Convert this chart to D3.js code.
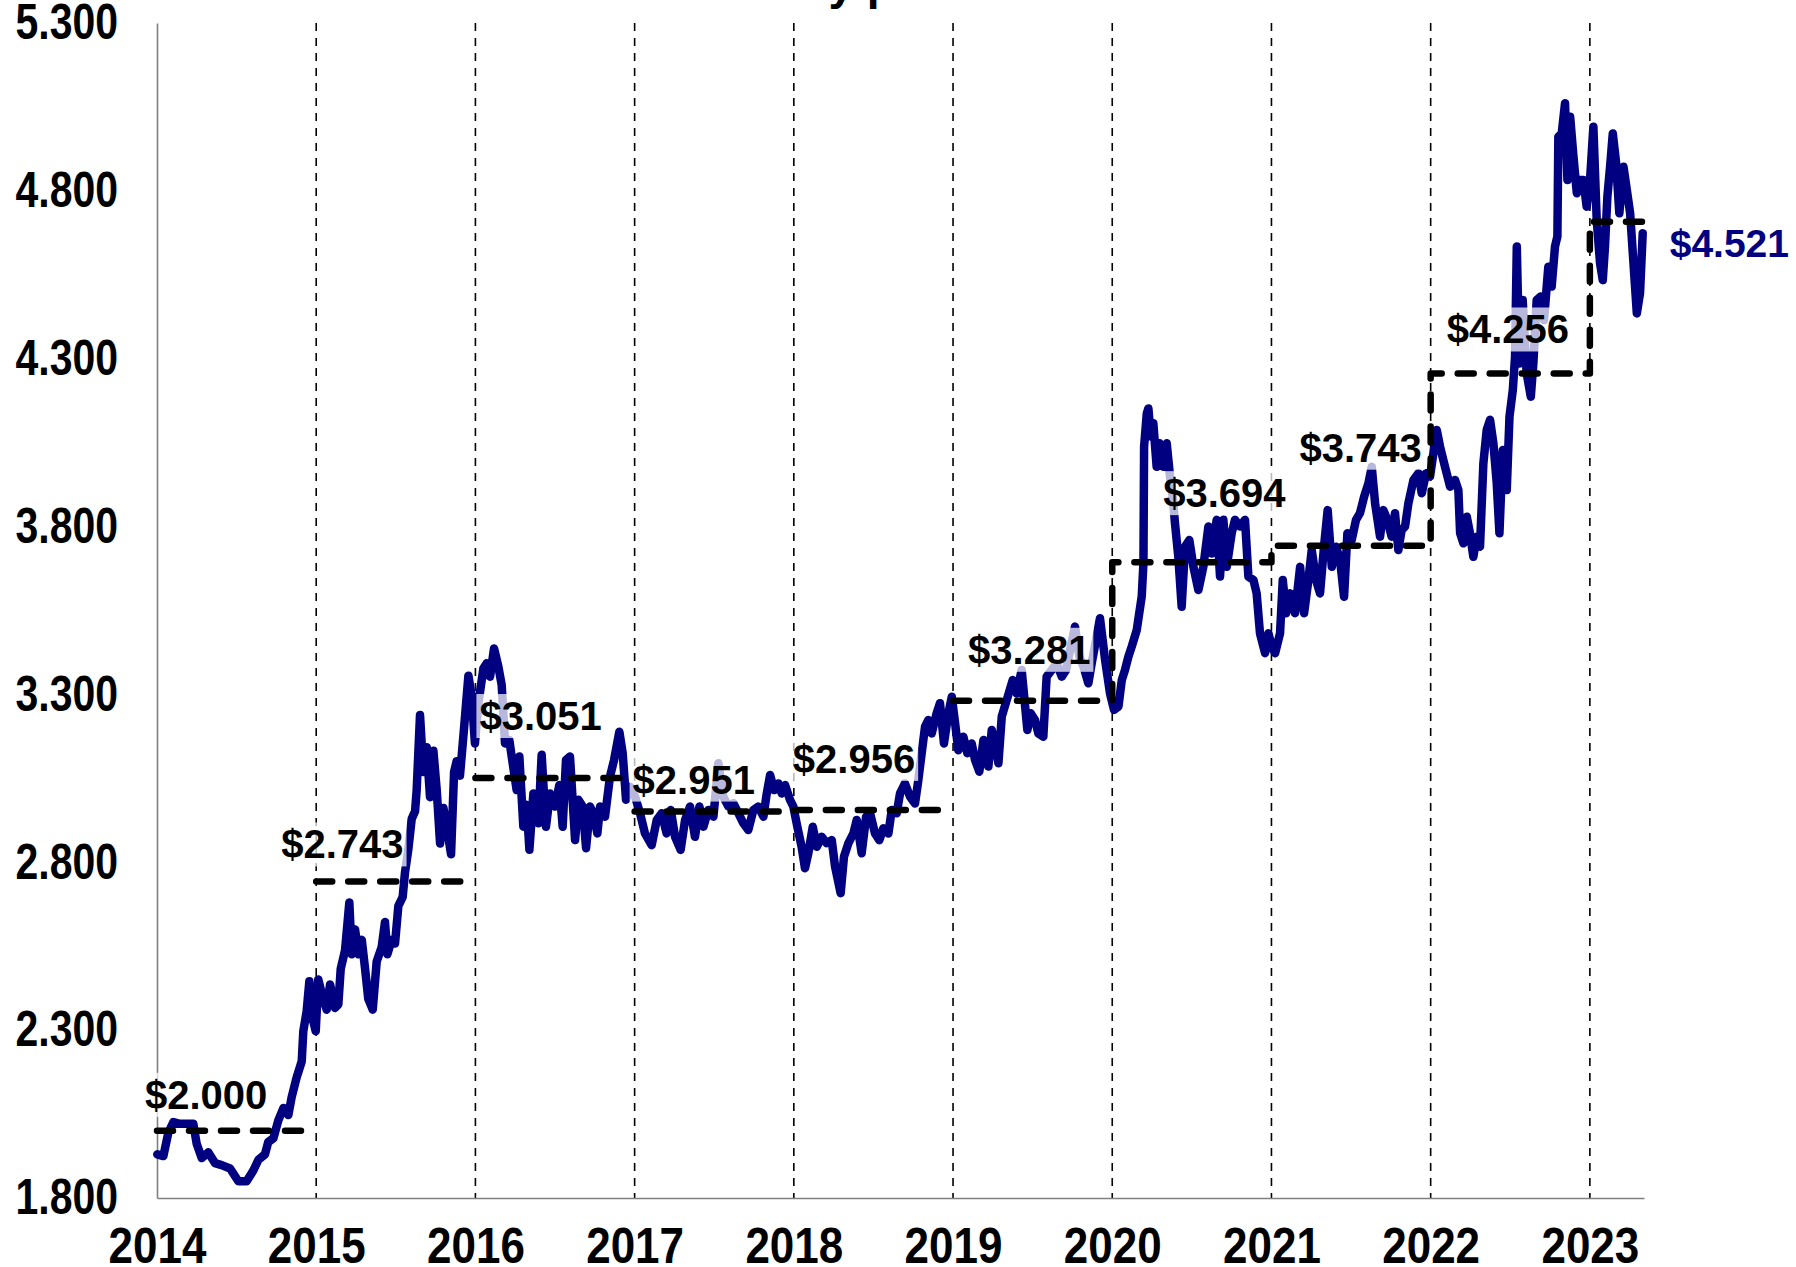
<!DOCTYPE html>
<html>
<head>
<meta charset="utf-8">
<script src="https://cdn.jsdelivr.net/npm/d3@7"></script>
<style>
  body { margin: 0; background: #fff; }
  svg { display: block; font-family: "Liberation Sans", Arial, sans-serif; }
</style>
</head>
<body>
<div id="vis"></div>
<script>
const FRAME_WIDTH = 1796;
const FRAME_HEIGHT = 1267;
const MARGINS = {left: 157, right: 152, top: 23, bottom: 69};

// chart values
const TITLE = 'Historical retail fuel weekly prices and annual means';
const years = [2014, 2015, 2016, 2017, 2018, 2019, 2020, 2021, 2022, 2023];
const annualAvg = [2.000, 2.743, 3.051, 2.951, 2.956, 3.281, 3.694, 3.743, 4.256, 4.708];
const yTicks = [1.8, 2.3, 2.8, 3.3, 3.8, 4.3, 4.8, 5.3];
const xStart = 2014;
const xEnd = 2023.34;
const lastPriceLabel = 4.521;

// price series (decimal year, $)
const priceDates = [
  2014.002, 2014.040, 2014.071, 2014.103, 2014.144, 2014.186, 2014.228, 2014.249, 2014.281, 2014.322,
  2014.364, 2014.406, 2014.459, 2014.511, 2014.563, 2014.605, 2014.637, 2014.678, 2014.699, 2014.731,
  2014.762, 2014.794, 2014.825, 2014.846, 2014.877, 2014.909, 2014.919, 2014.940, 2014.957, 2014.978,
  2014.997, 2015.013, 2015.041, 2015.066, 2015.087, 2015.118, 2015.139, 2015.154, 2015.181, 2015.208,
  2015.223, 2015.244, 2015.265, 2015.286, 2015.307, 2015.327, 2015.355, 2015.380, 2015.411, 2015.432,
  2015.447, 2015.474, 2015.495, 2015.516, 2015.543, 2015.558, 2015.579, 2015.600, 2015.621, 2015.631,
  2015.652, 2015.673, 2015.694, 2015.715, 2015.736, 2015.757, 2015.778, 2015.799, 2015.826, 2015.847,
  2015.866, 2015.882, 2015.903, 2015.928, 2015.956, 2015.977, 2015.997, 2016.018, 2016.050,
  2016.071, 2016.092, 2016.117, 2016.144, 2016.165, 2016.186, 2016.213, 2016.234, 2016.259, 2016.276,
  2016.301, 2016.322, 2016.339, 2016.364, 2016.395, 2016.416, 2016.443, 2016.469, 2016.500, 2016.527,
  2016.548, 2016.569, 2016.594, 2016.626, 2016.647, 2016.674, 2016.695, 2016.720, 2016.741, 2016.766,
  2016.783, 2016.814, 2016.845, 2016.871, 2016.904, 2016.925, 2016.946, 2016.971, 2017.003, 2017.034,
  2017.065, 2017.107, 2017.139, 2017.170, 2017.201, 2017.227, 2017.254, 2017.289, 2017.317, 2017.348,
  2017.379, 2017.407, 2017.432, 2017.463, 2017.495, 2017.526, 2017.557, 2017.589, 2017.620, 2017.652,
  2017.683, 2017.714, 2017.746, 2017.777, 2017.809, 2017.830, 2017.851, 2017.876, 2017.903, 2017.924,
  2017.945, 2017.976, 2017.997, 2018.022, 2018.049, 2018.070, 2018.091,
  2018.119, 2018.144, 2018.175, 2018.206, 2018.238, 2018.259, 2018.294, 2018.315, 2018.343, 2018.374,
  2018.395, 2018.426, 2018.454, 2018.479, 2018.510, 2018.537, 2018.562, 2018.594, 2018.615, 2018.646,
  2018.667, 2018.698, 2018.730, 2018.761, 2018.782, 2018.803, 2018.824, 2018.845, 2018.866, 2018.897,
  2018.918, 2018.943, 2018.971, 2018.992, 2019.013, 2019.033, 2019.065, 2019.090, 2019.117, 2019.138,
  2019.165, 2019.191, 2019.222, 2019.243, 2019.264, 2019.285, 2019.306, 2019.337, 2019.375, 2019.400,
  2019.431, 2019.467, 2019.488, 2019.515, 2019.536, 2019.567, 2019.588, 2019.620, 2019.651, 2019.683,
  2019.710, 2019.735, 2019.766, 2019.794, 2019.819, 2019.850, 2019.871, 2019.898, 2019.923, 2019.955,
  2019.986, 2020.011, 2020.039, 2020.060, 2020.080, 2020.101, 2020.122, 2020.154,
  2020.185, 2020.196, 2020.200, 2020.217, 2020.227, 2020.242, 2020.258, 2020.279, 2020.296, 2020.321,
  2020.342, 2020.363, 2020.380, 2020.394, 2020.415, 2020.436, 2020.457, 2020.484, 2020.510, 2020.541,
  2020.572, 2020.604, 2020.625, 2020.656, 2020.677, 2020.698, 2020.719, 2020.750, 2020.771, 2020.803,
  2020.834, 2020.855, 2020.887, 2020.907, 2020.928, 2020.960, 2020.981, 2021.002, 2021.023, 2021.054,
  2021.071, 2021.092, 2021.117, 2021.148, 2021.180, 2021.205, 2021.232, 2021.253, 2021.280, 2021.305,
  2021.330, 2021.353, 2021.379, 2021.406, 2021.431, 2021.456, 2021.477, 2021.504, 2021.531, 2021.556,
  2021.582, 2021.609, 2021.630, 2021.651, 2021.682, 2021.703, 2021.728, 2021.755, 2021.776, 2021.797,
  2021.818, 2021.839, 2021.860, 2021.892, 2021.923, 2021.944, 2021.971, 2021.996, 2022.017, 2022.038,
  2022.059, 2022.090, 2022.122,
  2022.153, 2022.174, 2022.185, 2022.206, 2022.227, 2022.247, 2022.268, 2022.289, 2022.310, 2022.331,
  2022.352, 2022.373, 2022.394, 2022.415, 2022.432, 2022.453, 2022.478, 2022.495, 2022.516, 2022.530,
  2022.541, 2022.557, 2022.578, 2022.603, 2022.629, 2022.645, 2022.666, 2022.691, 2022.712, 2022.739,
  2022.760, 2022.781, 2022.796, 2022.802, 2022.823, 2022.844, 2022.859, 2022.876, 2022.897, 2022.918,
  2022.938, 2022.959, 2022.980, 2023.001, 2023.022, 2023.043, 2023.064, 2023.081, 2023.095, 2023.110,
  2023.127, 2023.144, 2023.165, 2023.185, 2023.211, 2023.232, 2023.253, 2023.274, 2023.295, 2023.315,
  2023.332
];
const priceValues = [
  1.930, 1.925, 1.994, 2.026, 2.021, 2.021, 2.021, 1.962, 1.919, 1.936,
  1.904, 1.898, 1.888, 1.850, 1.850, 1.882, 1.914, 1.930, 1.967, 1.978,
  2.031, 2.068, 2.047, 2.101, 2.159, 2.207, 2.297, 2.356, 2.446, 2.334,
  2.297, 2.451, 2.398, 2.361, 2.436, 2.366, 2.377, 2.483, 2.537, 2.680,
  2.526, 2.600, 2.526, 2.569, 2.483, 2.393, 2.361, 2.505, 2.547, 2.622,
  2.526, 2.569, 2.558, 2.670, 2.696, 2.771, 2.840, 2.930, 2.952, 3.015,
  3.239, 3.069, 3.143, 2.994, 3.132, 3.015, 2.856, 2.962, 2.888, 2.824,
  3.069, 3.101, 3.058, 3.196, 3.356, 3.292, 3.154, 3.271, 3.377,
  3.393, 3.353, 3.437, 3.383, 3.328, 3.154, 3.164, 3.095, 3.015, 3.115,
  2.906, 2.971, 2.837, 3.005, 2.916, 3.120, 2.906, 3.005, 2.966, 3.030,
  2.906, 3.105, 3.115, 2.866, 2.986, 2.966, 2.842, 2.966, 2.946, 2.886,
  2.966, 2.936, 3.055, 3.105, 3.189, 3.125, 2.986, 3.025, 2.995, 2.946,
  2.886, 2.851, 2.926, 2.946, 2.886, 2.956, 2.876, 2.837, 2.926, 2.966,
  2.876, 2.966, 2.906, 2.956, 2.936, 3.095, 2.995, 2.966, 2.976, 2.946,
  2.916, 2.896, 2.956, 2.966, 2.936, 3.005, 3.060, 3.015, 3.035, 3.005,
  3.030, 2.986, 2.966, 2.906, 2.846, 2.782, 2.827,
  2.906, 2.846, 2.876, 2.857, 2.866, 2.787, 2.708, 2.817, 2.857, 2.886,
  2.926, 2.827, 2.936, 2.946, 2.886, 2.866, 2.901, 2.886, 2.956, 2.946,
  3.005, 3.035, 2.995, 2.975, 3.045, 3.125, 3.204, 3.224, 3.184, 3.244,
  3.274, 3.154, 3.244, 3.293, 3.214, 3.134, 3.174, 3.125, 3.154, 3.105,
  3.070, 3.164, 3.085, 3.194, 3.154, 3.095, 3.234, 3.283, 3.343, 3.303,
  3.373, 3.194, 3.244, 3.224, 3.184, 3.174, 3.353, 3.373, 3.393, 3.353,
  3.373, 3.432, 3.502, 3.412, 3.383, 3.333, 3.393, 3.462, 3.527, 3.403,
  3.303, 3.254, 3.264, 3.343, 3.373, 3.412, 3.442, 3.492,
  3.591, 3.691, 4.038, 4.137, 4.152, 4.068, 4.108, 3.978, 4.048, 3.978,
  4.048, 3.949, 3.889, 3.810, 3.710, 3.561, 3.740, 3.760, 3.680, 3.611,
  3.680, 3.800, 3.720, 3.820, 3.651, 3.820, 3.680, 3.780, 3.820, 3.800,
  3.820, 3.651, 3.641, 3.601, 3.482, 3.423, 3.482, 3.442, 3.423, 3.482,
  3.641, 3.542, 3.601, 3.542, 3.680, 3.542, 3.641, 3.730, 3.641, 3.601,
  3.740, 3.849, 3.680, 3.740, 3.700, 3.591, 3.780, 3.760, 3.820, 3.840,
  3.889, 3.929, 3.978, 3.869, 3.770, 3.849, 3.820, 3.770, 3.840, 3.730,
  3.790, 3.800, 3.869, 3.939, 3.959, 3.899, 3.959, 3.949, 4.018, 4.088,
  4.038, 3.978, 3.919,
  3.939, 3.909, 3.780, 3.750, 3.829, 3.780, 3.710, 3.770, 3.740, 3.988,
  4.088, 4.118, 4.048, 3.929, 3.780, 4.028, 3.909, 4.127, 4.207, 4.306,
  4.634, 4.286, 4.475, 4.257, 4.187, 4.286, 4.475, 4.485, 4.415, 4.574,
  4.515, 4.634, 4.664, 4.961, 4.971, 5.061, 4.832, 5.021, 4.902, 4.793,
  4.832, 4.832, 4.753, 4.832, 4.991, 4.713, 4.584, 4.534, 4.634, 4.783,
  4.872, 4.971, 4.882, 4.733, 4.872, 4.803, 4.733, 4.584, 4.435, 4.495,
  4.674
];

// layout: label offsets from each year's start / average level (px)
const labelNudge = [[-12, -22], [-35, -23], [4, -48], [-2, -18], [-1, -37],
                    [15, -37], [51, -55], [28, -84], [16, -30]];
const JOIN_FROM = 2019; // averages drawn as one connected step from here on

const NAVY = '#000080';

const VIS_WIDTH = FRAME_WIDTH - MARGINS.left - MARGINS.right;
const VIS_HEIGHT = FRAME_HEIGHT - MARGINS.top - MARGINS.bottom;

const FRAME = d3.select('#vis')
  .append('svg')
    .attr('width', FRAME_WIDTH)
    .attr('height', FRAME_HEIGHT);

const X_SCALE = d3.scaleLinear()
  .domain([xStart, xEnd])
  .range([MARGINS.left, MARGINS.left + VIS_WIDTH]);

const Y_SCALE = d3.scaleLinear()
  .domain([d3.min(yTicks), d3.max(yTicks)])
  .range([MARGINS.top + VIS_HEIGHT, MARGINS.top]);

// title (cropped off the top of the picture, only descenders show)
FRAME.append('text')
  .attr('x', 840)
  .attr('y', -1)
  .attr('text-anchor', 'middle')
  .attr('font-size', 46)
  .attr('font-weight', 'bold')
  .text(TITLE);

// year gridlines
FRAME.selectAll('.grid')
  .data(years.slice(1))
  .enter()
  .append('line')
    .attr('x1', d => X_SCALE(d))
    .attr('x2', d => X_SCALE(d))
    .attr('y1', MARGINS.top)
    .attr('y2', MARGINS.top + VIS_HEIGHT)
    .attr('stroke', '#000')
    .attr('stroke-width', 1.6)
    .attr('stroke-dasharray', '8,7');

// axes (tick text is a tall, narrow bold face in the original: stretch it)
const yAxis = FRAME.append('g')
  .attr('transform', 'translate(' + MARGINS.left + ',0)')
  .call(d3.axisLeft(Y_SCALE).tickValues(yTicks).tickSize(0).tickPadding(39)
    .tickFormat(d3.format('.3f')));

const xAxis = FRAME.append('g')
  .attr('transform', 'translate(0,' + (MARGINS.top + VIS_HEIGHT) + ')')
  .call(d3.axisBottom(X_SCALE).tickValues(years).tickSize(0).tickPadding(25)
    .tickFormat(d3.format('d')));

[yAxis, xAxis].forEach(ax => {
  ax.select('.domain').attr('stroke', '#808080').attr('stroke-width', 1.6);
  ax.selectAll('text')
    .attr('font-weight', 'bold')
    .attr('font-family', '"Liberation Sans", Arial, sans-serif')
    .attr('fill', '#000');
});
yAxis.selectAll('text').attr('font-size', 41).attr('transform', 'scale(1,1.2)');
xAxis.selectAll('text').attr('font-size', 44).attr('transform', 'scale(1,1.15)');

// price line
const priceLine = d3.line()
  .x((d, i) => X_SCALE(priceDates[i]))
  .y(d => Y_SCALE(d));

FRAME.append('path')
  .datum(priceValues)
  .attr('d', priceLine)
  .attr('fill', 'none')
  .attr('stroke', NAVY)
  .attr('stroke-width', 8.5)
  .attr('stroke-linejoin', 'round')
  .attr('stroke-linecap', 'round');

// annual average steps
const stepLine = d3.line()
  .x(d => X_SCALE(d[0]))
  .y(d => Y_SCALE(d[1]));

const dashStyle = sel => sel
  .attr('fill', 'none')
  .attr('stroke', '#000')
  .attr('stroke-width', 6.5)
  .attr('stroke-dasharray', '16,16')
  .attr('stroke-linecap', 'round')
  .attr('stroke-linejoin', 'round');

const joined = [];
years.forEach((yr, i) => {
  const end = Math.min(yr + 1, xEnd);
  if (yr < JOIN_FROM) {
    FRAME.append('path')
      .attr('d', stepLine([[yr, annualAvg[i]], [end, annualAvg[i]]]))
      .call(dashStyle);
  } else {
    joined.push([yr, annualAvg[i]], [end, annualAvg[i]]);
  }
});
FRAME.append('path').attr('d', stepLine(joined)).call(dashStyle);

// labels with soft white boxes
function boxedLabel(x, y, txt, color, size) {
  const g = FRAME.append('g');
  const t = g.append('text')
    .attr('x', x)
    .attr('y', y)
    .attr('font-size', size)
    .attr('font-weight', 'bold')
    .attr('fill', color)
    .text(txt);
  const bb = t.node().getBBox();
  g.insert('rect', 'text')
    .attr('x', bb.x - 3)
    .attr('y', bb.y)
    .attr('width', bb.width + 6)
    .attr('height', bb.height)
    .attr('fill', '#fff')
    .attr('opacity', 0.72);
}

const money = d3.format('.3f');
labelNudge.forEach((n, i) => {
  boxedLabel(X_SCALE(years[i]) + n[0], Y_SCALE(annualAvg[i]) + n[1],
    '$' + money(annualAvg[i]), '#000', 40);
});

const lastIdx = priceValues.length - 1;
boxedLabel(X_SCALE(priceDates[lastIdx]) + 27, Y_SCALE(priceValues[lastIdx]) + 24,
  '$' + money(lastPriceLabel), NAVY, 39);
</script>
</body>
</html>
